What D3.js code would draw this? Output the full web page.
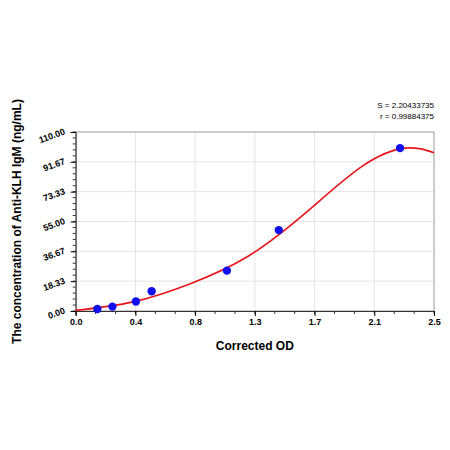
<!DOCTYPE html>
<html><head><meta charset="utf-8">
<script src="https://cdn.jsdelivr.net/npm/d3@7"></script>
<style>body{margin:0;background:#fff}text{font-family:Arial,"Liberation Sans",sans-serif}</style>
</head><body><svg id="c" width="450" height="450"></svg>
<script>
var pointsX = [0.151, 0.256, 0.42, 0.53, 1.055, 1.417, 2.263];
var pointsY = [1.2, 2.7, 5.8, 12.1, 24.8, 49.7, 100.1];
var curveX = [0, 0.4, 0.8, 1.2, 1.6, 2.0, 2.3, 2.5];
var curveY = [0.4, 5.6, 16.8, 33.5, 60, 89, 100.1, 97.3];
var xTicks = [0, 2.5/6, 5/6, 1.25, 10/6, 12.5/6, 2.5];
var xLabels = ["0.0","0.4","0.8","1.3","1.7","2.1","2.5"];
var yTicks = [0, 110/6, 220/6, 55, 440/6, 550/6, 110];
var yLabels = ["0.00","18.33","36.67","55.00","73.33","91.67","110.00"];

var svg = d3.select("#c");
var L = 75.7, R = 434, T = 132, B = 311;
var x = d3.scaleLinear().domain([0, 2.5]).range([L, R]);
var y = d3.scaleLinear().domain([0, 110]).range([B, T]);

// grid
svg.append("g").selectAll("line").data(xTicks.slice(1, -1)).join("line")
  .attr("x1", d => x(d)).attr("x2", d => x(d)).attr("y1", T).attr("y2", B)
  .attr("stroke", "#e4e4e4");
svg.append("g").selectAll("line").data(yTicks.slice(1, -1)).join("line")
  .attr("y1", d => y(d)).attr("y2", d => y(d)).attr("x1", L).attr("x2", R)
  .attr("stroke", "#e4e4e4");

svg.append("rect").attr("x", L).attr("y", T).attr("width", R - L).attr("height", B - T)
  .attr("fill", "none").attr("stroke", "#999");

// minor ticks
var xMinor = d3.range(0, 19).map(i => i * 2.5 / 18);
var yMinor = d3.range(0, 31).map(i => i * 110 / 30);
svg.append("g").selectAll("line").data(xMinor).join("line")
  .attr("x1", d => x(d)).attr("x2", d => x(d)).attr("y1", B).attr("y2", B + 3).attr("stroke", "#333");
svg.append("g").selectAll("line").data(yMinor).join("line")
  .attr("y1", d => y(d)).attr("y2", d => y(d)).attr("x1", L - 3).attr("x2", L).attr("stroke", "#333");

var xa = svg.append("g").attr("transform", "translate(0," + B + ")")
  .call(d3.axisBottom(x).tickValues(xTicks).tickFormat((d, i) => xLabels[i]).tickSize(5));
xa.select(".domain").attr("stroke", "#333");
xa.selectAll("text").attr("font-size", 9).attr("font-weight", "bold").attr("fill", "#000");

var ya = svg.append("g").attr("transform", "translate(" + L + ",0)")
  .call(d3.axisLeft(y).tickValues(yTicks).tickFormat((d, i) => yLabels[i]).tickSize(5));
ya.select(".domain").attr("stroke", "#333");
ya.selectAll("text").attr("font-size", 9).attr("font-weight", "bold").attr("fill", "#000")
  .attr("transform", "rotate(-20)").attr("dx", "-2").attr("dy", "-2");

var line = d3.line().x(d => x(d[0])).y(d => y(d[1])).curve(d3.curveNatural);
svg.append("path").datum(d3.zip(curveX, curveY)).attr("d", line)
  .attr("fill", "none").attr("stroke", "#e8141a").attr("stroke-width", 1.6);

svg.append("g").selectAll("circle").data(d3.zip(pointsX, pointsY)).join("circle")
  .attr("cx", d => x(d[0])).attr("cy", d => y(d[1])).attr("r", 4.2).attr("fill", "#1010ee");

svg.append("text").attr("x", (L + R) / 2).attr("y", 350).attr("text-anchor", "middle")
  .attr("font-size", 12).attr("font-weight", "bold").text("Corrected OD");
svg.append("text").attr("transform", "translate(21," + ((T + B) / 2) + ") rotate(-90)")
  .attr("text-anchor", "middle").attr("font-size", 12).attr("font-weight", "bold")
  .text("The concentration of Anti-KLH IgM (ng/mL)");

svg.append("text").attr("x", 434).attr("y", 108).attr("text-anchor", "end")
  .attr("font-size", 8).text("S = 2.20433735");
svg.append("text").attr("x", 434).attr("y", 119).attr("text-anchor", "end")
  .attr("font-size", 8).text("r = 0.99884375");
</script></body></html>
